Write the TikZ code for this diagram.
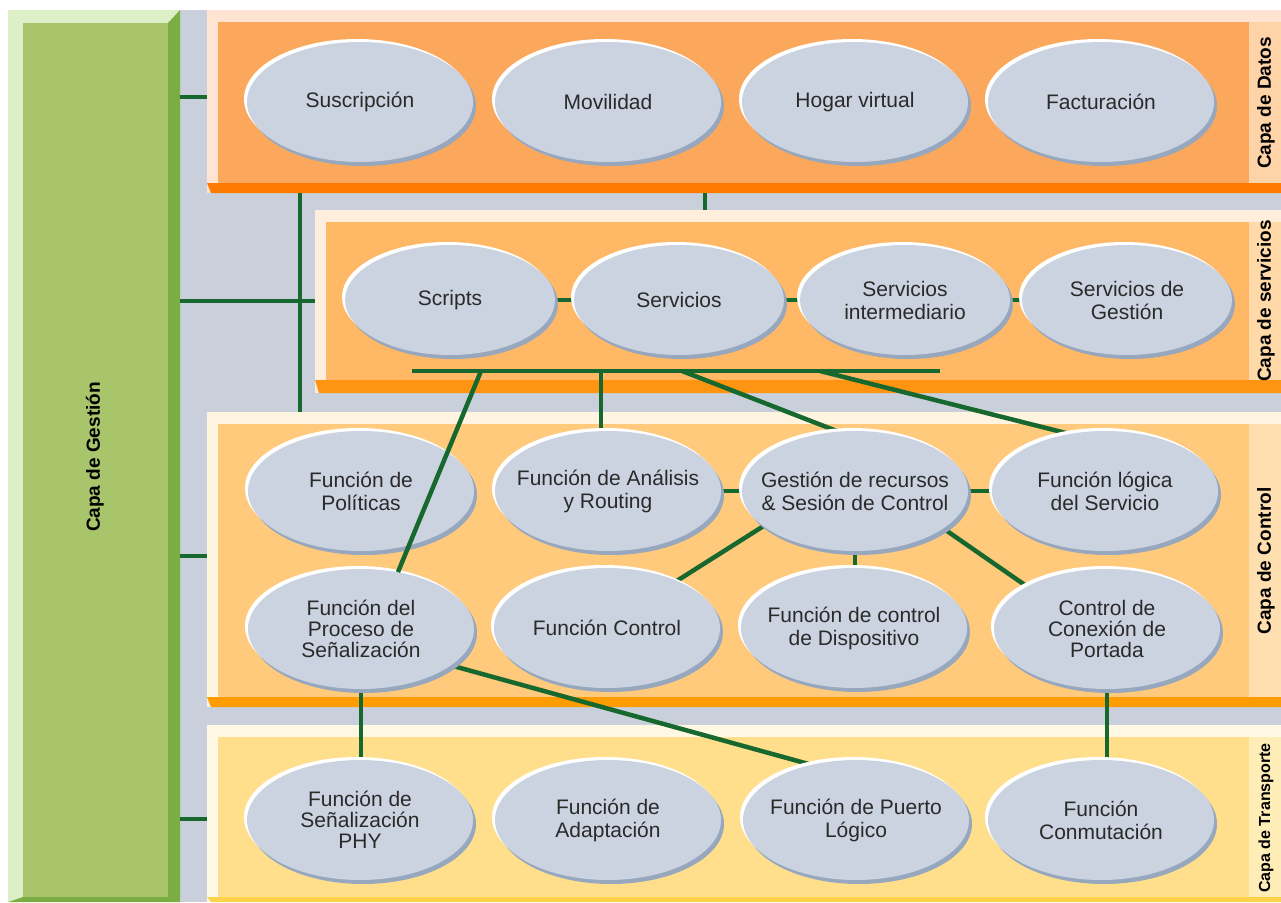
\documentclass[tikz,border=0pt]{standalone}
\usepackage{fontspec}
\setmainfont{Liberation Sans}
\usetikzlibrary{shapes.geometric,shadows}

\definecolor{gbg}{HTML}{C9D0DB}
\definecolor{gfill}{HTML}{A8C56C}
\definecolor{ghi}{HTML}{DDEFC6}
\definecolor{gdk}{HTML}{7AAE42}
\definecolor{datfill}{HTML}{FBA85C}
\definecolor{dathi}{HTML}{FFE4D2}
\definecolor{datbar}{HTML}{FF7A00}
\definecolor{datstrip}{HTML}{FFD3A8}
\definecolor{srvfill}{HTML}{FFB866}
\definecolor{srvhi}{HTML}{FFEEDC}
\definecolor{srvbar}{HTML}{FF9412}
\definecolor{srvstrip}{HTML}{FFD9A8}
\definecolor{ctlfill}{HTML}{FFCA7C}
\definecolor{ctlhi}{HTML}{FFF4E0}
\definecolor{ctlbar}{HTML}{FF9C00}
\definecolor{ctlstrip}{HTML}{FFDFB0}
\definecolor{trnfill}{HTML}{FFDF8C}
\definecolor{trnhi}{HTML}{FFF8E2}
\definecolor{trnbar}{HTML}{FFD24C}
\definecolor{trnstrip}{HTML}{FFEDB8}
\definecolor{bubfill}{HTML}{CBD3E0}
\definecolor{bubshade}{HTML}{97A7BD}
\definecolor{lnk}{HTML}{17682E}
\definecolor{txt}{HTML}{2A2A2A}

\pgfdeclarelayer{back}
\pgfdeclarelayer{mid}
\pgfsetlayers{back,mid,main}

% one horizontal band: x-left, y-top, y-bottom, fill, rim, bottom bar, label strip, bar height
\newcommand\drawband[8]{%
  \fill[#5] (#1,#2) rectangle (1281,#3);
  \fill[#4] (#1+11,#2+12) rectangle (1249,#3-#8);
  \fill[#7] (1249,#2+12) rectangle (1281,#3-#8);
  \fill[#6] (#1,#3-#8) -- (1281,#3-#8) -- (1281,#3) -- (#1+4,#3) -- cycle;
}

\begin{document}
\begin{tikzpicture}[x=1pt,y=-1pt,
  link/.style={draw=lnk, line width=4.5pt},
  % negative horizontal inner sep keeps every bubble at its fixed size
  bub/.style={ellipse, minimum width=226, minimum height=120,
    inner xsep=-40pt, inner ysep=0pt,
    fill=bubfill, text=txt, align=center,
    font=\fontsize{21}{23}\selectfont,
    general shadow={fill=bubshade, shadow xshift=3pt, shadow yshift=-4pt},
    general shadow={fill=white, shadow xshift=-3pt, shadow yshift=3pt}},
  sbub/.style={bub, minimum width=210, minimum height=110},
  tight/.style={font=\fontsize{21}{21}\selectfont},
  lbl/.style={rotate=90, inner sep=0, text=black,
    font=\bfseries\fontsize{19}{19}\selectfont},
  band/.style={inner sep=0, anchor=north west}]

\useasboundingbox (0,0) rectangle (1281,902);

\begin{pgfonlayer}{back}
  \fill[white] (0,0) rectangle (1281,902);
  \fill[gbg] (180,10) rectangle (1281,902);
  % management panel with bevelled rim
  \fill[ghi] (8,10) -- (180,10) -- (168,23) -- (23,23) -- (23,897) -- (8,902) -- cycle;
  \fill[gdk] (180,10) -- (180,902) -- (8,902) -- (23,897) -- (168,897) -- (168,23) -- cycle;
  \fill[gfill] (23,23) rectangle (168,897);
  % layer bands
  \drawband{207}{10}{193}{datfill}{dathi}{datbar}{datstrip}{10}
  \drawband{315}{210}{393}{srvfill}{srvhi}{srvbar}{srvstrip}{13}
  \drawband{207}{412}{707}{ctlfill}{ctlhi}{ctlbar}{ctlstrip}{10}
  \drawband{207}{725}{902}{trnfill}{trnhi}{trnbar}{trnstrip}{5}
\end{pgfonlayer}

% named areas
\node[band, minimum width=172, minimum height=892] (gest) at (8,10) {};
\node[band, minimum width=1074, minimum height=183] (datos) at (207,10) {};
\node[band, minimum width=966, minimum height=183] (serv) at (315,210) {};
\node[band, minimum width=1074, minimum height=295] (ctrl) at (207,412) {};
\node[band, minimum width=1074, minimum height=177] (trans) at (207,725) {};

% layer titles
\node[lbl] (tgest) at (95,457) {Capa de Gestión};
\node[lbl] (tdat) at (1266,103) {Capa de Datos};
\node[lbl] (tsrv) at (1266,301) {Capa de servicios};
\node[lbl] (tctl) at (1266,561) {Capa de Control};
\node[lbl, font=\bfseries\fontsize{16}{16}\selectfont] (ttrn) at (1266,818) {Capa de Transporte};

% data layer
\node[bub] (sus) at (360,102) {Suscripción};
\node[bub] (mov) at (608,102) {Movilidad};
\node[bub] (hog) at (855,102) {Hogar virtual};
\node[bub] (fac) at (1101,102) {Facturación};

% service layer
\node[sbub] (scr) at (450,300) {Scripts};
\node[sbub] (svc) at (679,300) {Servicios};
\node[sbub] (int) at (905,300) {Servicios\\intermediario};
\node[sbub] (sg) at (1127,300) {Servicios de\\Gestión};

% control layer
\node[bub] (pol) at (361,491) {Función de\\Políticas};
\node[bub] (an) at (608,491) {Función de Análisis\\y Routing};
\node[bub] (gr) at (855,491) {Gestión de recursos\\\& Sesión de Control};
\node[bub] (lo) at (1105,491) {Función lógica\\del Servicio};
\node[bub, tight] (pr) at (361,629) {Función del\\Proceso de\\Señalización};
\node[bub] (fc) at (607,628) {Función Control};
\node[bub] (dis) at (854,628) {Función de control\\de Dispositivo};
\node[bub, tight] (cc) at (1107,629) {Control de\\Conexión de\\Portada};

% transport layer
\node[bub, tight] (phy) at (360,820) {Función de\\Señalización\\PHY};
\node[bub] (ad) at (608,820) {Función de\\Adaptación};
\node[bub] (pl) at (856,820) {Función de Puerto\\Lógico};
\node[bub] (conm) at (1101,820) {Función\\Conmutación};

% service bus taps
\coordinate (barL) at (412,371);
\coordinate (barR) at (940,371);
\coordinate (b1) at (481,371);
\coordinate (b2) at (601,371);
\coordinate (b3) at (682,371);
\coordinate (b4) at (820,371);

\begin{pgfonlayer}{mid}
  % links from the management panel
  \coordinate (d1) at (180,97);
  \coordinate (s1) at (180,301);
  \coordinate (c1) at (180,556);
  \coordinate (t1) at (180,819);
  \coordinate (v1) at (300,193);
  \coordinate (v2) at (705,193);
  \draw[link] (d1) -- (d1 -| datos.west);
  \draw[link] (s1) -- (s1 -| serv.west);
  \draw[link] (c1) -- (c1 -| ctrl.west);
  \draw[link] (t1) -- (t1 -| trans.west);
  \draw[link] (v1) -- (v1 |- ctrl.north);
  \draw[link] (v2) -- (v2 |- serv.north);

  % service bus
  \draw[link] (barL) -- (barR);
  \draw[link] (b2) -- (b2 |- an.north);
  \draw[link] (b3) -- (gr.106);
  \draw[link] (b4) -- (lo.122);

  % service chain
  \draw[link] (scr.east) -- (svc.west);
  \draw[link] (svc.east) -- (int.west);
  \draw[link] (int.east) -- (sg.west);

  % control links
  \draw[link] (an.east) -- (gr.west);
  \draw[link] (gr.east) -- (lo.west);
  \draw[link] (gr.-159) -- (fc.34);
  \draw[link] (gr.south) -- (gr.south |- dis.north);
  \draw[link] (gr.-23) -- (cc.152);

  % down to transport
  \draw[link] (pr.-22) -- (pl.129);
  \draw[link] (pr.south) -- (pr.south |- phy.north);
  \draw[link] (cc.south) -- (cc.south |- conm.north);
\end{pgfonlayer}

% this tap runs across the policy bubble
\draw[link] (b1) -- (pr.57);

\end{tikzpicture}
\end{document}
